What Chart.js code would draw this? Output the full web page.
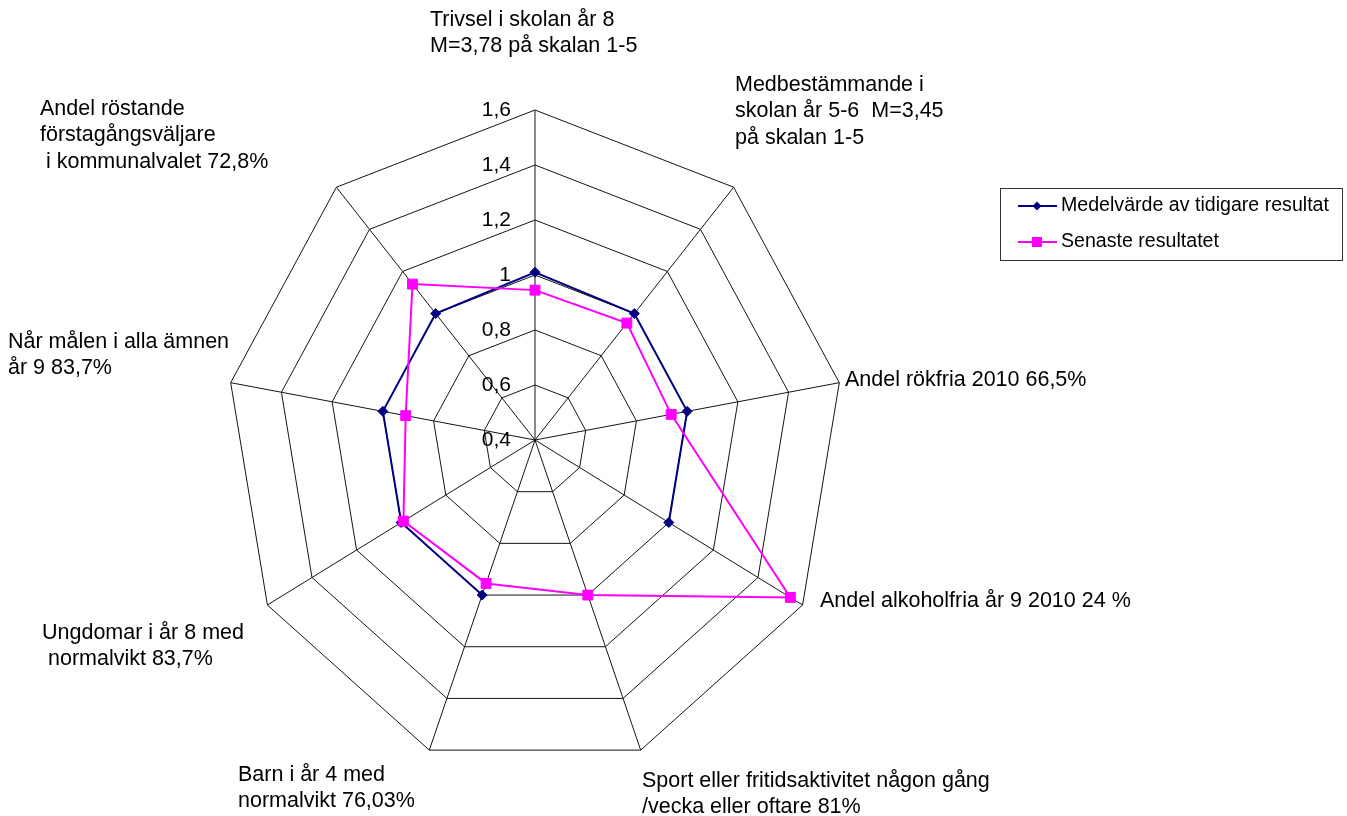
<!DOCTYPE html>
<html>
<head>
<meta charset="utf-8">
<script src="https://cdn.jsdelivr.net/npm/chart.js@4/dist/chart.umd.min.js"></script>
<style>
html,body{margin:0;padding:0;background:#fff;overflow:hidden}
canvas{display:block}
</style>
</head>
<body>
<canvas id="c" width="1347" height="816"></canvas>
<script>
// ---- data ----
const categories = [
  ['Trivsel i skolan år 8', 'M=3,78 på skalan 1-5'],
  ['Medbestämmande i', 'skolan år 5-6  M=3,45', 'på skalan 1-5'],
  ['Andel rökfria 2010 66,5%'],
  ['Andel alkoholfria år 9 2010 24 %'],
  ['Sport eller fritidsaktivitet någon gång', '/vecka eller oftare 81%'],
  ['Barn i år 4 med', 'normalvikt 76,03%'],
  ['Ungdomar i år 8 med', ' normalvikt 83,7%'],
  ['Når målen i alla ämnen', 'år 9 83,7%'],
  ['Andel röstande', 'förstagångsväljare', ' i kommunalvalet 72,8%']
];
const seriesNames = ['Medelvärde av tidigare resultat', 'Senaste resultatet'];
const earlierMean = [1.01, 1.0, 1.0, 1.0, null, 1.0, 1.0, 1.0, 1.0];
const latest = [0.945, 0.955, 0.937, 1.545, 1.0, 0.955, 0.99, 0.91, 1.14];
const tickValues = [0.4, 0.6, 0.8, 1.0, 1.2, 1.4, 1.6];
const tickLabels = ['0,4', '0,6', '0,8', '1', '1,2', '1,4', '1,6'];

// ---- layout / style ----
const NAVY = '#000080';
const MAGENTA = '#FF00FF';
const GRID = '#141414';
const FONT = '"Liberation Sans", Arial, sans-serif';
const X_STRETCH = 309 / 330; // reference plot is slightly narrower than tall
const labelLayout = [
  {x: 430, y: 20}, {x: 735, y: 85}, {x: 845, y: 380}, {x: 820, y: 601},
  {x: 642, y: 781}, {x: 238, y: 775}, {x: 42, y: 633}, {x: 8, y: 342}, {x: 40, y: 109}
];
const LINE_H = 26.5;

// elliptical radial scale (x compressed)
const RL = Chart.RadialLinearScale || Chart.registry.getScale('radialLinear');
const origGPP = RL.prototype.getPointPosition;
RL.prototype.getPointPosition = function (index, dist, add) {
  const p = origGPP.call(this, index, dist, add || 0);
  p.x = this.xCenter + (p.x - this.xCenter) * X_STRETCH;
  return p;
};

function drawMarker(ctx, style, x, y, r, color) {
  ctx.save();
  ctx.fillStyle = color;
  ctx.beginPath();
  if (style === 'rectRot') {
    ctx.moveTo(x, y - r); ctx.lineTo(x + r, y); ctx.lineTo(x, y + r); ctx.lineTo(x - r, y);
    ctx.closePath();
  } else {
    ctx.rect(x - r, y - r, 2 * r, 2 * r);
  }
  ctx.fill();
  ctx.restore();
}

const overlay = {
  id: 'overlay',
  afterDraw(chart) {
    const ctx = chart.ctx;
    const s = chart.scales.r;
    ctx.save();
    // tick labels
    ctx.fillStyle = '#000';
    ctx.font = '21px ' + FONT;
    ctx.textAlign = 'right';
    ctx.textBaseline = 'middle';
    s.ticks.forEach((t, i) => {
      const y = s.yCenter - s.getDistanceFromCenterForValue(t.value);
      ctx.fillText(tickLabels[i], s.xCenter - 24, y);
    });
    // category labels
    ctx.font = '21.5px ' + FONT;
    ctx.textAlign = 'left';
    chart.data.labels.forEach((lines, i) => {
      const L = labelLayout[i];
      lines.forEach((ln, k) => ctx.fillText(ln, L.x, L.y + k * LINE_H));
    });
    // legend
    ctx.strokeStyle = '#333';
    ctx.lineWidth = 1;
    ctx.fillStyle = '#fff';
    ctx.fillRect(1000.5, 188.5, 342, 72);
    ctx.strokeRect(1000.5, 188.5, 342, 72);
    const items = [
      {name: seriesNames[0], color: NAVY, style: 'rectRot', r: 4.5, y: 206},
      {name: seriesNames[1], color: MAGENTA, style: 'rect', r: 5, y: 242}
    ];
    ctx.font = '19.6px ' + FONT;
    items.forEach(it => {
      ctx.strokeStyle = it.color;
      ctx.lineWidth = 2;
      ctx.beginPath();
      ctx.moveTo(1018, it.y); ctx.lineTo(1057, it.y);
      ctx.stroke();
      drawMarker(ctx, it.style, 1037, it.y, it.r, it.color);
      ctx.fillStyle = '#000';
      ctx.fillText(it.name, 1061, it.y);
    });
    ctx.restore();
  }
};

new Chart(document.getElementById('c'), {
  type: 'radar',
  data: {
    labels: categories,
    datasets: [
      {
        label: seriesNames[0],
        data: earlierMean,
        borderColor: NAVY,
        backgroundColor: NAVY,
        borderWidth: 2,
        fill: false,
        tension: 0,
        spanGaps: false,
        pointStyle: 'rectRot',
        pointRadius: 5,
        pointBorderWidth: 1,
        pointBackgroundColor: NAVY,
        pointBorderColor: NAVY,
        order: 1
      },
      {
        label: seriesNames[1],
        data: latest,
        borderColor: MAGENTA,
        backgroundColor: MAGENTA,
        borderWidth: 2,
        fill: false,
        tension: 0,
        pointStyle: 'rect',
        pointRadius: 7,
        pointBorderWidth: 1,
        pointBackgroundColor: MAGENTA,
        pointBorderColor: MAGENTA,
        order: 0
      }
    ]
  },
  options: {
    responsive: false,
    animation: false,
    devicePixelRatio: 1,
    layout: {padding: {left: 205, right: 482, top: 110, bottom: 46}},
    plugins: {legend: {display: false}, tooltip: {enabled: false}},
    scales: {
      r: {
        min: 0.4,
        max: 1.6,
        afterBuildTicks: (sc) => { sc.ticks = tickValues.map(v => ({value: v})); },
        ticks: {display: false, stepSize: 0.2},
        pointLabels: {display: false},
        grid: {display: true, circular: false, color: GRID, lineWidth: 1},
        angleLines: {display: true, color: GRID, lineWidth: 1}
      }
    }
  },
  plugins: [overlay]
});
</script>
</body>
</html>
